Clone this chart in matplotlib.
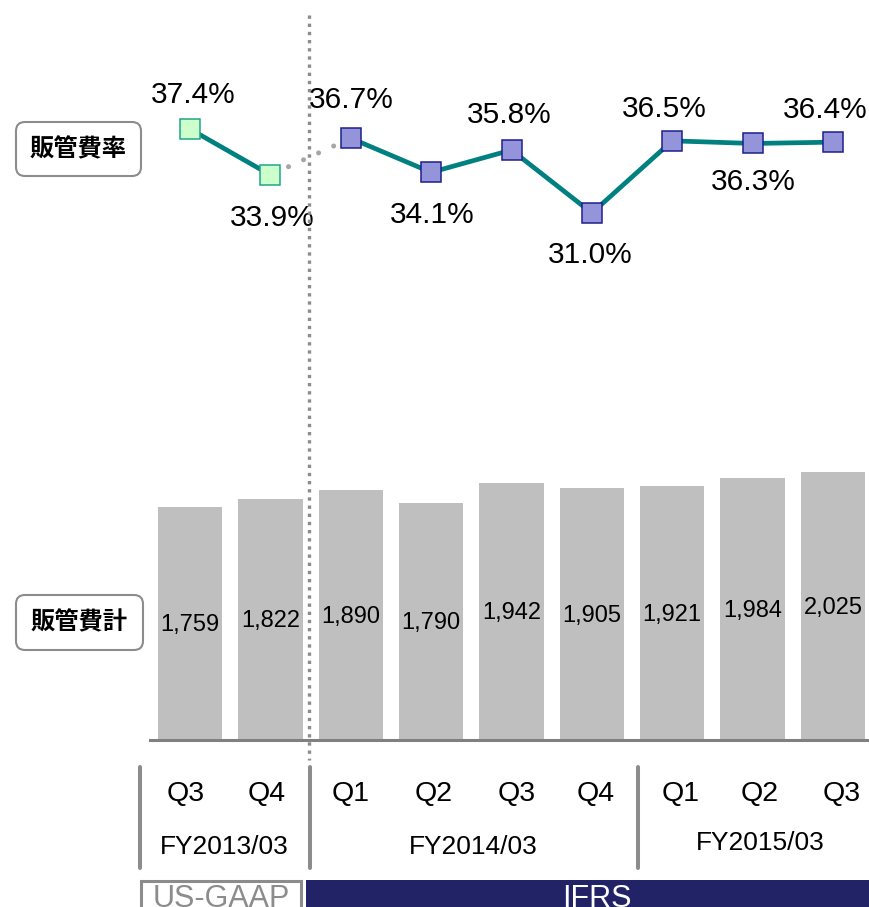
import matplotlib
matplotlib.use("Agg")
import matplotlib.pyplot as plt
from matplotlib.patches import FancyBboxPatch, Rectangle
from matplotlib.transforms import blended_transform_factory

# data
quarters = ["Q3", "Q4", "Q1", "Q2", "Q3", "Q4", "Q1", "Q2", "Q3"]
fiscal_years = ["FY2013/03", "FY2014/03", "FY2015/03"]
fy_groups = [[0, 1], [2, 3, 4, 5], [6, 7, 8]]
sga_total = [1759, 1822, 1890, 1790, 1942, 1905, 1921, 1984, 2025]
sga_ratio = [37.4, 33.9, 36.7, 34.1, 35.8, 31.0, 36.5, 36.3, 36.4]
n_usgaap = 2  # first two quarters are US-GAAP, the rest IFRS

plt.rcParams['font.family'] = ['Liberation Sans', 'DejaVu Sans']
cjk = ['Noto Sans CJK JP', 'DejaVu Sans']

W, H = 869, 907
fig = plt.figure(figsize=(W / 100, H / 100), dpi=100)

step = 80.375  # pixels between bar centres
def px2x(px):
    return (px - 190) / step

x = list(range(len(quarters)))
xlim = (px2x(150), px2x(869))

# --- ratio line (top) ---
ax_l = fig.add_axes([150 / W, (H - 260) / H, 719 / W, 200 / H])
ax_l.set_xlim(xlim)
ax_l.set_ylim(27.42, 42.66)
ax_l.axis('off')

ax_l.plot(x[:n_usgaap], sga_ratio[:n_usgaap], color='#008080', lw=3.4,
          marker='s', ms=14, mfc='#CCFFCC', mec='#1FA58A', mew=1.1,
          clip_on=False, zorder=3)
ax_l.plot(x[n_usgaap - 1:n_usgaap + 1], sga_ratio[n_usgaap - 1:n_usgaap + 1],
          color='#A6A6A6', lw=3.6, linestyle=(2.64, (0.01, 3.3)),
          dash_capstyle='round', zorder=2)
ax_l.plot(x[n_usgaap:], sga_ratio[n_usgaap:], color='#008080', lw=3.4,
          marker='s', ms=14, mfc='#9494DB', mec='#1E1E8C', mew=1.1,
          clip_on=False, zorder=3)

pct_offsets = [(3, 26), (2, -51), (1, 30), (1, -51), (-2, 27),
               (-2, -50), (-8, 24), (1, -47), (-8, 24)]
for xi, v, (dx, dy) in zip(x, sga_ratio, pct_offsets):
    ax_l.annotate(f"{v:.1f}%", (xi, v), xytext=(dx, dy), textcoords='offset pixels',
                  ha='center', va='baseline', fontsize=21.5, annotation_clip=False)

# --- totals bars (bottom) ---
ax_b = fig.add_axes([150 / W, (H - 739.5) / H, 719 / W, 280 / H])
ax_b.set_xlim(xlim)
ax_b.set_ylim(0, 280 / 0.1319)
ax_b.bar(x, sga_total, width=0.8, color='#BFBFBF')
for s in ['top', 'right', 'left']:
    ax_b.spines[s].set_visible(False)
ax_b.spines['bottom'].set_color('#808080')
ax_b.spines['bottom'].set_linewidth(2.2)
ax_b.set_xticks([])
ax_b.set_yticks([])
ax_b.patch.set_visible(False)
for xi, v in zip(x, sga_total):
    ax_b.annotate(f"{v:,}", (xi, v / 2), xytext=(0, -8), textcoords='offset pixels',
                  ha='center', va='baseline', fontsize=17)

# --- overlay in pixel coordinates ---
ax_o = fig.add_axes([0, 0, 1, 1])
ax_o.set_xlim(0, W)
ax_o.set_ylim(H, 0)
ax_o.axis('off')
tr = blended_transform_factory(ax_b.transData, ax_o.transData)

# US-GAAP / IFRS dividing line
ax_o.plot([1.48, 1.48], [15, 760], transform=tr, color='#8C8C8C', lw=2.4,
          linestyle=(0, (1, 1.45)))

# fiscal year separators
for bx in [-0.62, 1.49, 5.57]:
    ax_o.plot([bx, bx], [767, 868], transform=tr, color='#8C8C8C', lw=2.9,
              solid_capstyle='round')

q_shift = [-4, -4, 0, 3, 5, 4, 8, 7, 9]
for xi, q, dx in zip(x, quarters, q_shift):
    ax_o.text(xi + dx / step, 801, q, transform=tr, ha='center', va='baseline',
              fontsize=20.5)

fy_shift = [(-6, 854), (2, 854), (8, 850)]
for fy, grp, (dx, by) in zip(fiscal_years, fy_groups, fy_shift):
    cx = sum(grp) / len(grp)
    ax_o.text(cx + dx / step, by, fy, transform=tr, ha='center', va='baseline',
              fontsize=19)

# accounting standard bands
ax_o.add_patch(Rectangle((141, 881), 160, 40, facecolor='white',
                         edgecolor='#8C8C8C', lw=2.2))
ax_o.text(221, 907, "US-GAAP", ha='center', va='baseline', fontsize=22, color='#8C8C8C')
ax_o.add_patch(Rectangle((306, 880), 600, 40, facecolor='#222266', edgecolor='none'))
ax_o.text(597, 907, "IFRS", ha='center', va='baseline', fontsize=22, color='white')

# left labels
for (bx, by, bw, bh), lab in zip([(16, 122, 125, 54), (16, 595, 127, 55)],
                                 ["販管費率", "販管費計"]):
    ax_o.add_patch(FancyBboxPatch((bx, by), bw, bh, boxstyle="round,pad=0,rounding_size=9",
                                  fc='white', ec='#8C8C8C', lw=1.5))
    ax_o.text(bx + bw / 2, by + bh / 2, lab, ha='center', va='center', fontsize=17.5,
              fontweight='bold', family=cjk)

fig.savefig('out.png', dpi=100)
